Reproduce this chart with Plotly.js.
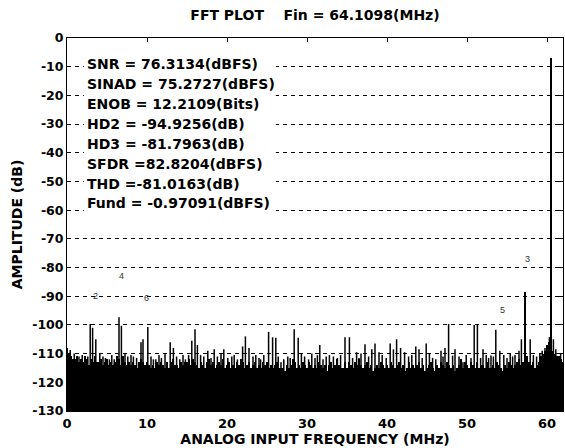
<!DOCTYPE html>
<html><head><meta charset="utf-8">
<script src="https://cdn.plot.ly/plotly-3.0.1.min.js"></script>
<style>html,body{margin:0;padding:0;background:#fff}#chart{width:565px;height:448px}</style>
</head><body><div id="chart"></div><script>
// Noise floor: one value per 0.25 MHz bin, from 0 to 62 MHz (dB)
const binStartMHz = 0;
const binStepMHz = 0.25;
const floorDb = [
-108,-110,-111,-112, -112,-111,-113,-112, -113,-111,-112,-114, -112,-113,-111,-113,
-113,-112,-114,-113, -112,-114,-113,-114, -113,-111,-112,-114, -111,-113,-114,-113,
-114,-113,-114,-115, -113,-112,-113,-114, -113,-114,-115,-114, -115,-113,-114,-113,
-114,-115,-113,-115, -113,-112,-114,-114, -115,-113,-114,-113, -113,-112,-114,-112,
-113,-114,-115,-113, -114,-115,-113,-112, -114,-113,-115,-114, -113,-114,-112,-115,
-114,-113,-115,-114, -115,-113,-114,-112, -113,-115,-114,-113, -115,-114,-113,-115,
-114,-115,-113,-114, -113,-115,-114,-115, -114,-113,-115,-115, -115,-116,-114,-115,
-114,-112,-113,-115, -114,-115,-113,-114, -115,-113,-114,-115, -114,-115,-113,-114,
-115,-114,-116,-114, -113,-115,-114,-112, -114,-115,-115,-113, -115,-113,-114,-115,
-113,-114,-112,-114, -115,-114,-113,-115, -114,-116,-115,-114, -115,-113,-114,-115,
-114,-115,-113,-114, -115,-114,-113,-115, -114,-116,-115,-113, -115,-114,-115,-114,
-113,-115,-114,-116, -115,-114,-113,-115, -116,-114,-115,-113, -114,-115,-113,-114,
-115,-114,-116,-115, -114,-112,-115,-113, -114,-115,-113,-114, -115,-113,-115,-114,
-114,-115,-113,-115, -115,-114,-115,-113, -114,-115,-116,-114, -115,-113,-114,-115,
-114,-113,-112,-114, -113,-112,-111,-113, -114,-113,-115,-114, -113,-111,-110,-109,
-107,-106,-108,-109, -110,-111,-111,-112, -113
];
// Spurs above the floor (MHz, dB)
const spurFreq = [0.4,0.9,1.2,1.5,1.9,2.3,2.6,2.9,3.2,3.6,4.1,4.5,4.8,5.3,5.6,5.9,6.5,6.8,7.25,7.6,
 8.0,8.3,8.7,9.25,9.5,10.1,10.5,10.8,11.1,11.5,11.8,12.25,12.9,13.3,13.7,14.1,14.5,14.8,15.2,15.6,
 16.0,16.3,16.7,17.1,17.6,18.0,18.4,18.8,19.25,19.6,20.1,20.6,20.9,21.3,21.95,22.3,22.75,23.25,23.6,24.0,
 24.2,24.6,25.2,25.7,26.1,26.4,26.75,27.1,27.6,27.9,28.4,28.9,29.3,29.7,30.2,30.6,31.0,31.3,31.6,32.0,
 32.4,32.8,33.3,33.8,34.2,34.75,35.3,35.7,36.2,36.5,36.75,37.25,37.7,38.1,38.5,39.0,39.4,39.9,40.4,40.8,
 41.2,41.7,42.2,42.7,43.1,43.6,44.0,44.4,44.9,45.3,45.7,46.1,46.75,47.0,47.25,47.7,48.2,48.5,49.0,49.5,
 49.9,50.5,50.9,51.3,51.7,52.0,52.4,52.7,53.0,53.3,53.6,54.1,54.6,55.0,55.4,55.7,56.0,56.5,56.8,57.9,
 58.3,58.7,59.1,59.4,59.75,60.0,60.3,60.8,61.1,61.4,61.7];
const spurDb = [-108.7,-110,-112,-111,-110.5,-112,-111,-99.7,-101,-105,-110,-111,-111.5,-112,-110.5,-112,-97.3,-100.3,-110,-111,
 -110.5,-111,-111.5,-106,-105,-100.7,-111,-112,-112,-110.5,-111.5,-110,-106,-108,-111,-112,-110.5,-112,-110.5,-105.5,
 -101.5,-107,-110.5,-111,-109,-111.5,-108.5,-111,-110,-108.5,-111.5,-111,-110.5,-112,-107.5,-104,-108,-111,-110.5,-111.5,
 -112,-110.5,-102.4,-104.3,-104.5,-111,-113,-112,-111,-111.5,-101.5,-104.5,-110,-111,-112,-110,-111.5,-110.5,-107,-112,
 -111,-110.5,-111,-111.5,-110.5,-104.3,-104.3,-111.5,-109.5,-111.5,-110,-106.7,-111,-108.5,-106.5,-109.5,-110.5,-111.5,-106.5,-108.5,
 -105,-108,-109.5,-111,-110.5,-107.5,-108.5,-111.5,-106.5,-110,-111.5,-112,-109,-111,-108,-99.7,-110.7,-108.5,-111,-113,
 -110.5,-111.5,-100,-100,-111.5,-108.5,-110.5,-111.5,-110.7,-111,-101.7,-109,-110.5,-111.5,-110,-111,-110.5,-109,-105,-105,
 -110.5,-111,-110,-109,-108,-107.5,-104.3,-105,-108.5,-111,-110];
// Fundamental and 3rd harmonic
const toneFreq = [60.5, 57.25];
const toneDb = [-7, -88.5];
// Harmonic markers
const harmLabels = ['2','3','4','5','6'];
const harmFreq = [3.5, 57.6, 6.75, 54.4, 9.9];
const harmDb = [-89.8, -77.0, -82.8, -94.8, -90.7];
// Statistics text
const statLines = ['SNR = 76.3134(dBFS)','SINAD = 75.2727(dBFS)','ENOB = 12.2109(Bits)','HD2 = -94.9256(dB)',
 'HD3 = -81.7963(dB)','SFDR =82.8204(dBFS)','THD =-81.0163(dB)','Fund = -0.97091(dBFS)'];
const xTickVals = [0,10,20,30,40,50,60];
const xTickText = ['0','10','20','30','40','50','60'];
const yTickVals = [0,-10,-20,-30,-40,-50,-60,-70,-80,-90,-100,-110,-120,-130];
const yTickText = ['0','-10','-20','-30','-40','-50','-60','-70','-80','-90','-100','-110','-120','-130'];

const Y_MIN = -130, Y_MAX = 0, X_MAX = 62;
const FONT = 'DejaVu Sans, Arial, sans-serif';

function stems(xs, ys){
  const X = [], Y = [];
  xs.forEach((x,i)=>{ X.push(x,x,null); Y.push(Y_MIN, ys[i], null); });
  return {X, Y};
}
const sp = stems(spurFreq, spurDb);
const tn = stems(toneFreq, toneDb);
const bold = a => a.map(t => '<b>' + t + '</b>');

const traces = [
  {type:'bar', x0:binStartMHz, dx:binStepMHz, y:floorDb.map(v=>v-Y_MIN), base:Y_MIN,
   width:binStepMHz, marker:{color:'#000', line:{width:0}}, hoverinfo:'skip'},
  {type:'scatter', mode:'lines', x:sp.X, y:sp.Y, line:{color:'#000', width:1.5}, hoverinfo:'skip'},
  {type:'scatter', mode:'lines', x:tn.X, y:tn.Y, line:{color:'#000', width:2}, hoverinfo:'skip'}
];

const annotations = [];
statLines.forEach((t,i)=>{
  annotations.push({text:'<b>' + t + '</b>', xref:'x', yref:'y', x:2.3, y:-9.2 - i*6.92, xanchor:'left', yanchor:'middle',
    showarrow:false, font:{family:FONT, size:14, color:'#000'}});
});
harmLabels.forEach((t,i)=>{
  annotations.push({text:t, xref:'x', yref:'y', x:harmFreq[i], y:harmDb[i], showarrow:false,
    font:{family:'Liberation Sans, Arial, sans-serif', size:9, color:'#333'}});
});

const layout = {
  width:565, height:448, margin:{l:67, r:2, t:38, b:37},
  paper_bgcolor:'#fff', plot_bgcolor:'#fff', showlegend:false, bargap:0,
  title:{text:'<b>FFT PLOT    Fin = 64.1098(MHz)</b>', x:0.5, xref:'paper', y:1-15/448, yref:'container', yanchor:'middle',
    font:{family:FONT, size:14, color:'#000'}},
  xaxis:{range:[0, X_MAX], tickvals:xTickVals, ticktext:bold(xTickText), ticks:'inside', ticklen:4, tickcolor:'#000',
    showline:true, linecolor:'#000', linewidth:1, mirror:'ticks', showgrid:false, zeroline:false,
    tickfont:{family:FONT, size:13, color:'#000'},
    title:{text:'<b>ANALOG INPUT FREQUENCY (MHz)</b>', standoff:2, font:{family:FONT, size:14, color:'#000'}}},
  yaxis:{range:[Y_MIN, Y_MAX], tickvals:yTickVals, ticktext:bold(yTickText), ticks:'inside', ticklen:4, tickcolor:'#000',
    showline:true, linecolor:'#000', linewidth:1, mirror:'ticks', showgrid:true, gridcolor:'#000', gridwidth:1,
    griddash:'4px,4px', zeroline:false,
    tickfont:{family:FONT, size:12.5, color:'#000'},
    title:{text:'<b>AMPLITUDE (dB)</b>', standoff:6, font:{family:FONT, size:14, color:'#000'}}},
  shapes:[{type:'rect', xref:'x', yref:'y', x0:2.1, x1:26.1, y0:-4.5, y1:-62, fillcolor:'#fff', line:{width:0}, layer:'above'}],
  annotations
};
Plotly.newPlot('chart', traces, layout, {staticPlot:true, displayModeBar:false});
</script></body></html>
